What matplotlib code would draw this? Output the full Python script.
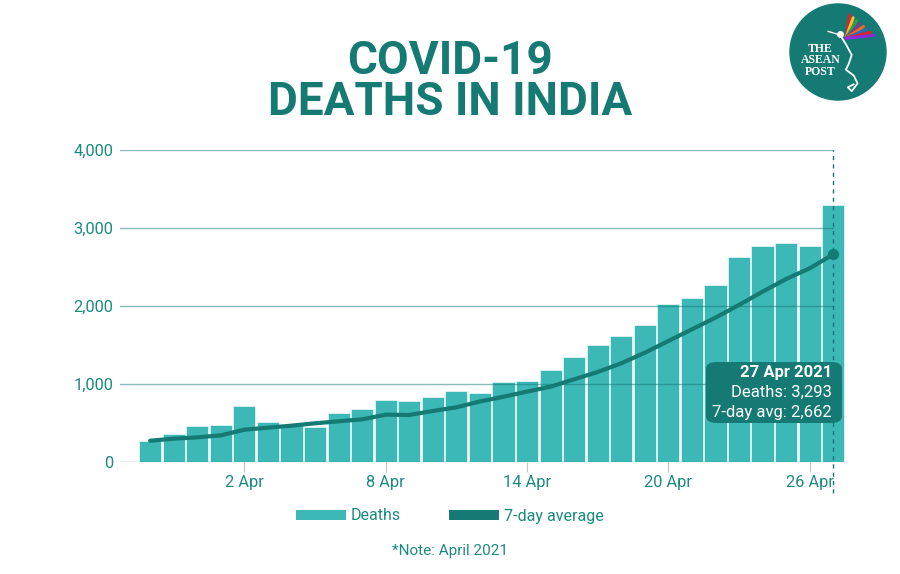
import matplotlib
matplotlib.use("Agg")
import matplotlib.pyplot as plt
from matplotlib.patches import FancyBboxPatch, Circle, Patch

# Data: daily deaths, 29 Mar - 27 Apr 2021
dates = ["29 Mar", "30 Mar", "31 Mar", "1 Apr", "2 Apr", "3 Apr", "4 Apr", "5 Apr",
         "6 Apr", "7 Apr", "8 Apr", "9 Apr", "10 Apr", "11 Apr", "12 Apr", "13 Apr",
         "14 Apr", "15 Apr", "16 Apr", "17 Apr", "18 Apr", "19 Apr", "20 Apr", "21 Apr",
         "22 Apr", "23 Apr", "24 Apr", "25 Apr", "26 Apr", "27 Apr"]
deaths = [271, 354, 459, 469, 714, 513, 478, 446, 630, 685, 794, 780, 839, 904, 879,
          1027, 1038, 1185, 1341, 1501, 1619, 1761, 2023, 2104, 2263, 2624, 2767,
          2812, 2771, 3293]
avg7 = [273, 299, 316, 342, 414, 440, 466, 496, 522, 547, 607, 603, 654, 701, 776,
        837, 902, 966, 1060, 1154, 1265, 1401, 1551, 1701, 1850, 2013, 2184, 2346,
        2483, 2662]
tick_labels = ["2 Apr", "8 Apr", "14 Apr", "20 Apr", "26 Apr"]
y_ticks = [0, 1000, 2000, 3000, 4000]

BAR = "#3cb8b7"
DARK = "#147a73"
TEXT = "#1b8a81"

plt.rcParams["font.family"] = ["Roboto", "DejaVu Sans"]

W, H = 900, 574
fig = plt.figure(figsize=(W / 100, H / 100), dpi=100)

def px(x0, y0, x1, y1):
    # pixel box (top-left origin) -> figure rect
    return [x0 / W, 1 - y1 / H, (x1 - x0) / W, (y1 - y0) / H]

ax = fig.add_axes(px(120, 150, 845, 462))
xs = list(range(len(deaths)))

ax.bar(xs, deaths, width=0.94, color=BAR, edgecolor="white", linewidth=0.4, zorder=2)
for v in y_ticks:
    ax.axhline(v, xmin=0, xmax=0.983, color=DARK, alpha=0.5, lw=1, zorder=3)
ax.plot(xs, avg7, color=DARK, lw=3, zorder=4, solid_capstyle="round")
ax.plot(xs[-1], avg7[-1], "o", color=DARK, ms=7, zorder=5)
ax.axvline(xs[-1], ymin=-0.1, ymax=1.0, color=DARK, lw=1, ls=(0, (3, 3)),
           clip_on=False, zorder=5)

ax.set_xlim(-1.28, 29.5)
ax.set_ylim(0, 4000)
ax.set_yticks(y_ticks)
ax.set_yticklabels([f"{v:,}" for v in y_ticks])
tick_pos = [dates.index(t) for t in tick_labels]
ax.set_xticks(tick_pos)
ax.set_xticklabels(tick_labels)
ax.tick_params(axis="y", length=0, pad=5, labelsize=11.8, labelcolor=TEXT)
ax.tick_params(axis="x", length=7.5, width=0.8, color="#c4c4c4", pad=2,
               labelsize=11.8, labelcolor=TEXT)
for s in ax.spines.values():
    s.set_visible(False)

# tooltip
tip = FancyBboxPatch((706 / W, 1 - 423 / H), 136 / W, 61 / H,
                     boxstyle="round,pad=0,rounding_size=0.012",
                     transform=fig.transFigure, facecolor=DARK, edgecolor="none",
                     zorder=10)
fig.patches.append(tip)
fig.text(832 / W, 1 - 372 / H, f"{dates[-1]} 2021", color="white", fontsize=12,
         fontweight="bold", ha="right", va="center", zorder=11)
fig.text(832 / W, 1 - 392 / H, f"Deaths: {deaths[-1]:,}", color="white", fontsize=12,
         ha="right", va="center", zorder=11)
fig.text(832 / W, 1 - 412 / H, f"7-day avg: {avg7[-1]:,}", color="white", fontsize=12,
         ha="right", va="center", zorder=11)

# title
fig.text(0.5, 1 - 61 / H, "COVID-19", color=DARK, fontsize=33, fontweight="bold",
         ha="center", va="center")
fig.text(0.5, 1 - 102 / H, "DEATHS IN INDIA", color=DARK, fontsize=33, fontweight="bold",
         ha="center", va="center")

# legend
handles = [Patch(facecolor=BAR, edgecolor="none"), Patch(facecolor=DARK, edgecolor="none")]
fig.legend(handles, ["Deaths", "7-day average"], loc="center",
           bbox_to_anchor=(0.5, 1 - 516 / H), ncol=2, frameon=False, fontsize=11.5,
           labelcolor=TEXT, handlelength=3.1, handleheight=0.6, handletextpad=0.35,
           columnspacing=3.0)
fig.text(0.5, 1 - 551 / H, "*Note: April 2021", color=TEXT, fontsize=11,
         ha="center", va="center")

# logo
lax = fig.add_axes(px(789, 3, 887, 101))
lax.set_xlim(0, 1)
lax.set_ylim(0, 1)
lax.set_aspect("equal")
lax.axis("off")
lax.add_patch(Circle((0.5, 0.5), 0.49, color=DARK))
for i, word in enumerate(["THE", "ASEAN", "POST"]):
    lax.text(0.32, 0.53 - i * 0.115, word, color="white", fontsize=8.5, fontweight="bold",
             family="Liberation Serif", ha="center", va="center")
# bird
lax.plot([0.40, 0.50], [0.71, 0.68], color="white", lw=1.0)
lax.plot(0.52, 0.68, "o", color="white", ms=4)
lax.plot([0.53, 0.58, 0.64, 0.61, 0.58, 0.66, 0.70, 0.64, 0.60, 0.66],
         [0.66, 0.58, 0.47, 0.38, 0.32, 0.26, 0.18, 0.10, 0.14, 0.17],
         color="white", lw=1.3)
feathers = ["#d9262c", "#f2c12e", "#2e9e4a", "#7a3d8f", "#e86a2a", "#2b6cb0",
            "#d9262c", "#8a2be2"]
for j, c in enumerate(feathers):
    lax.plot([0.58, 0.62 + 0.035 * j], [0.64, 0.88 - 0.03 * j], color=c, lw=2.2,
             solid_capstyle="round")

fig.savefig("out.png", dpi=100, facecolor="white")
